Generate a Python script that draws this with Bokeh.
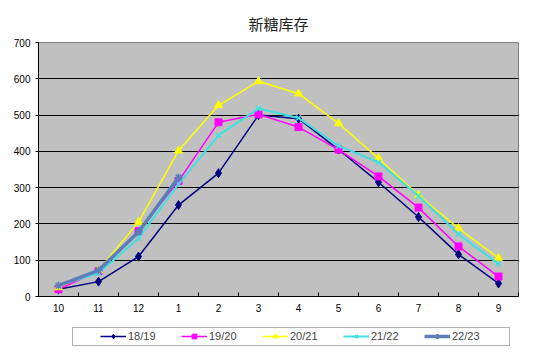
from bokeh.plotting import figure
from bokeh.layouts import column
from bokeh.models import Range1d, FixedTicker, Legend, LegendItem, BoxAnnotation
from bokeh.embed import file_html
from bokeh.resources import INLINE

months = ["10", "11", "12", "1", "2", "3", "4", "5", "6", "7", "8", "9"]
s1819 = [20, 41, 110, 252, 340, 500, 490, 405, 315, 219, 116, 36]
s1920 = [20, 70, 180, 318, 480, 502, 467, 405, 331, 245, 138, 55]
s2021 = [25, 72, 205, 402, 527, 593, 559, 477, 381, 279, 188, 106]
s2122 = [30, 64, 160, 310, 444, 518, 492, 415, 370, 277, 172, 90]
s2223 = [30, 72, 178, 328]
y_ticks = [0, 100, 200, 300, 400, 500, 600, 700]
series_names = ["18/19", "19/20", "20/21", "21/22", "22/23"]

xs = [i + 0.5 for i in range(len(months))]

p = figure(width=550, height=320, output_backend="svg", toolbar_location=None,
           x_range=Range1d(0, len(months)), y_range=Range1d(0, 700),
           min_border_left=38, min_border_right=32, min_border_top=42,
           min_border_bottom=24)

p.title.text = "新糖库存"
p.title.align = "center"
p.title.text_font = "Noto Sans CJK SC"
p.title.text_font_size = "15px"
p.title.text_font_style = "normal"
p.title.text_color = "#222222"
p.title.standoff = 18

p.background_fill_color = "#C0C0C0"
p.border_fill_color = "white"
p.outline_line_color = "#808080"
p.outline_line_width = 1

p.xgrid.visible = False
p.ygrid.grid_line_color = "black"
p.ygrid.grid_line_width = 1
p.ygrid.ticker = FixedTicker(ticks=y_ticks)

xa = p.xaxis[0]
xa.ticker = FixedTicker(ticks=xs, minor_ticks=list(range(len(months) + 1)))
xa.major_label_overrides = {x: m for x, m in zip(xs, months)}
xa.major_tick_in = 0
xa.major_tick_out = 0
xa.minor_tick_in = 4
xa.minor_tick_out = 0
xa.minor_tick_line_color = "black"
xa.axis_line_color = "black"
xa.major_label_text_font = "Liberation Sans"
xa.major_label_text_font_size = "10px"
xa.major_label_text_color = "black"
xa.major_label_standoff = 7

ya = p.yaxis[0]
ya.ticker = FixedTicker(ticks=y_ticks)
ya.major_tick_in = 0
ya.major_tick_out = 3
ya.minor_tick_line_color = None
ya.axis_line_color = "black"
ya.major_tick_line_color = "black"
ya.major_label_text_font = "Liberation Sans"
ya.major_label_text_font_size = "10px"
ya.major_label_text_color = "black"
ya.major_label_standoff = 5

styles = [
    dict(color="#000080", lw=1.5, marker="diamond", size=9, mlw=1),
    dict(color="#FF00FF", lw=1.5, marker="square", size=7, mlw=1),
    dict(color="#FFFF00", lw=1.5, marker="triangle", size=8, mlw=1),
    dict(color="#40E0E0", lw=2, marker="x", size=7, mlw=1.5),
    dict(color="#5B7DB8", lw=3.5, marker="asterisk", size=8, mlw=1.5),
]
all_series = [s1819, s1920, s2021, s2122, s2223]

for vals, st in zip(all_series, styles):
    x = xs[:len(vals)]
    p.line(x, vals, line_color=st["color"], line_width=st["lw"])
    p.scatter(x, vals, marker=st["marker"], size=st["size"], fill_color=st["color"],
              line_color=st["color"], line_width=st["mlw"])

# legend strip (its frame is aligned with the main plot's frame by the column)
p2 = figure(width=550, height=36, output_backend="svg", toolbar_location=None,
            x_range=Range1d(0, 1), y_range=Range1d(0, 1),
            x_axis_type=None, y_axis_type=None,
            min_border_left=0, min_border_right=0, min_border_top=0, min_border_bottom=0)
p2.outline_line_color = None
p2.grid.visible = False
p2.background_fill_color = "white"

items = []
for name, vals, st in zip(series_names, all_series, styles):
    x = xs[:len(vals)]
    r = p2.line(x, vals, line_color=st["color"], line_width=st["lw"])
    m = p2.scatter(x, vals, marker=st["marker"], size=st["size"] - 1, fill_color=st["color"],
                   line_color=st["color"], line_width=st["mlw"])
    items.append(LegendItem(label=name, renderers=[r, m]))

legend = Legend(items=items, orientation="horizontal", location=(59, 11),
                glyph_width=26, glyph_height=12, label_height=12, label_width=28,
                label_standoff=2, spacing=25, padding=3, margin=0,
                label_text_font="Liberation Sans", label_text_font_size="11px",
                border_line_alpha=0, background_fill_alpha=0)
p2.add_layout(legend, "center")

box = BoxAnnotation(left=34, right=471, top=29, bottom=11,
                    left_units="screen", right_units="screen",
                    top_units="screen", bottom_units="screen",
                    fill_alpha=0, line_color="black", line_width=1)
p2.add_layout(box)

layout = column(p, p2, spacing=0)
open("out.html", "w").write(file_html(layout, INLINE))
